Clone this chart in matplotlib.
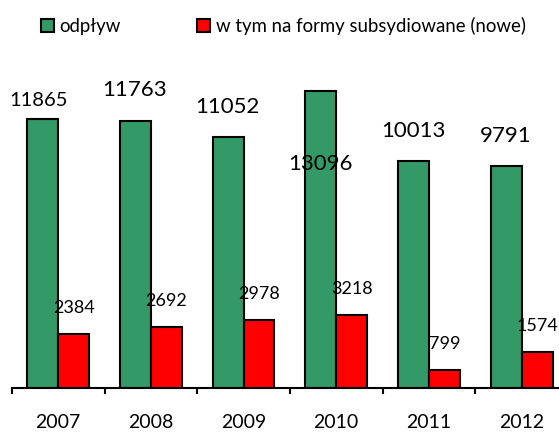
import numpy as np
import matplotlib
matplotlib.use('Agg')
import matplotlib.pyplot as plt
from matplotlib.patches import Patch

# --- dane ---
years = ['2007', '2008', '2009', '2010', '2011', '2012']
odplyw = [11865, 11763, 11052, 13096, 10013, 9791]
subsyd = [2384, 2692, 2978, 3218, 799, 1574]

# --- kolory / styl ---
COLOR_GREEN = '#339966'
COLOR_RED = '#FF0000'
FONT = 'Lato'

# przesuniecia etykiet (px) - etykiety w oryginale byly recznie przesuwane
green_dx = [-3.6, -0.8, -1.0, 0.0, -0.4, -1.0]
green_dy = [18.2, 30.5, 30.6, -72.8, 30.2, 29.7]
green_fs = [14.5, 16, 16, 16, 16, 16]

plt.rcParams['font.family'] = [FONT, 'DejaVu Sans']

W, H = 559, 432
fig = plt.figure(figsize=(W / 100, H / 100), dpi=100, facecolor='white')

px_per_unit = 0.0227
ax_left, ax_bottom, ax_top = 11.8, 388, 40
cat_w = 92.7
ax_w = cat_w * len(years)
ax = fig.add_axes([ax_left / W, (H - ax_bottom) / H, ax_w / W, (ax_bottom - ax_top) / H])
ax.set_xlim(-0.5, len(years) - 0.5)
ax.set_ylim(0, (ax_bottom - ax_top) / px_per_unit)

x = np.arange(len(years))
bw = 1 / 3
g_bars = ax.bar(x - bw / 2, odplyw, bw, color=COLOR_GREEN, edgecolor='black', linewidth=1.5)
r_bars = ax.bar(x + bw / 2, subsyd, bw, color=COLOR_RED, edgecolor='black', linewidth=1.5)

for i, b in enumerate(g_bars):
    ax.annotate(str(odplyw[i]), (b.get_x() + b.get_width() / 2, b.get_height()),
                xytext=(green_dx[i], green_dy[i]), textcoords='offset pixels',
                ha='center', va='center', fontsize=green_fs[i], color='black',
                annotation_clip=False)

for i, b in enumerate(r_bars):
    ax.annotate(str(subsyd[i]), (b.get_x() + b.get_width() / 2, b.get_height()),
                xytext=(0, 26), textcoords='offset pixels',
                ha='center', va='center', fontsize=13, color='black',
                annotation_clip=False)

# os X - kreski na granicach kategorii, etykiety na srodkach
for s in ['left', 'right', 'top']:
    ax.spines[s].set_visible(False)
ax.spines['bottom'].set_linewidth(1.5)
ax.set_xticks(np.arange(len(years) + 1) - 0.5)
ax.set_xticklabels([])
ax.tick_params(axis='x', which='major', direction='out', length=4.5, width=1.5)
ax.set_xticks(x, minor=True)
ax.set_xticklabels(years, minor=True, fontsize=14)
ax.tick_params(axis='x', which='minor', length=0, pad=18.5)
ax.set_yticks([])

handles = [Patch(facecolor=COLOR_GREEN, edgecolor='black', linewidth=1.5),
           Patch(facecolor=COLOR_RED, edgecolor='black', linewidth=1.5)]
fig.legend(handles, ['odpływ', 'w tym na formy subsydiowane (nowe)'],
           loc='upper left', bbox_to_anchor=(41 / W, 1 - 17 / H), ncol=2,
           frameon=False, fontsize=13.4, handlelength=0.7, handleheight=0.7,
           handletextpad=0.3, columnspacing=4.1, borderpad=0, borderaxespad=0)

fig.savefig('out.png', dpi=100, facecolor='white')
